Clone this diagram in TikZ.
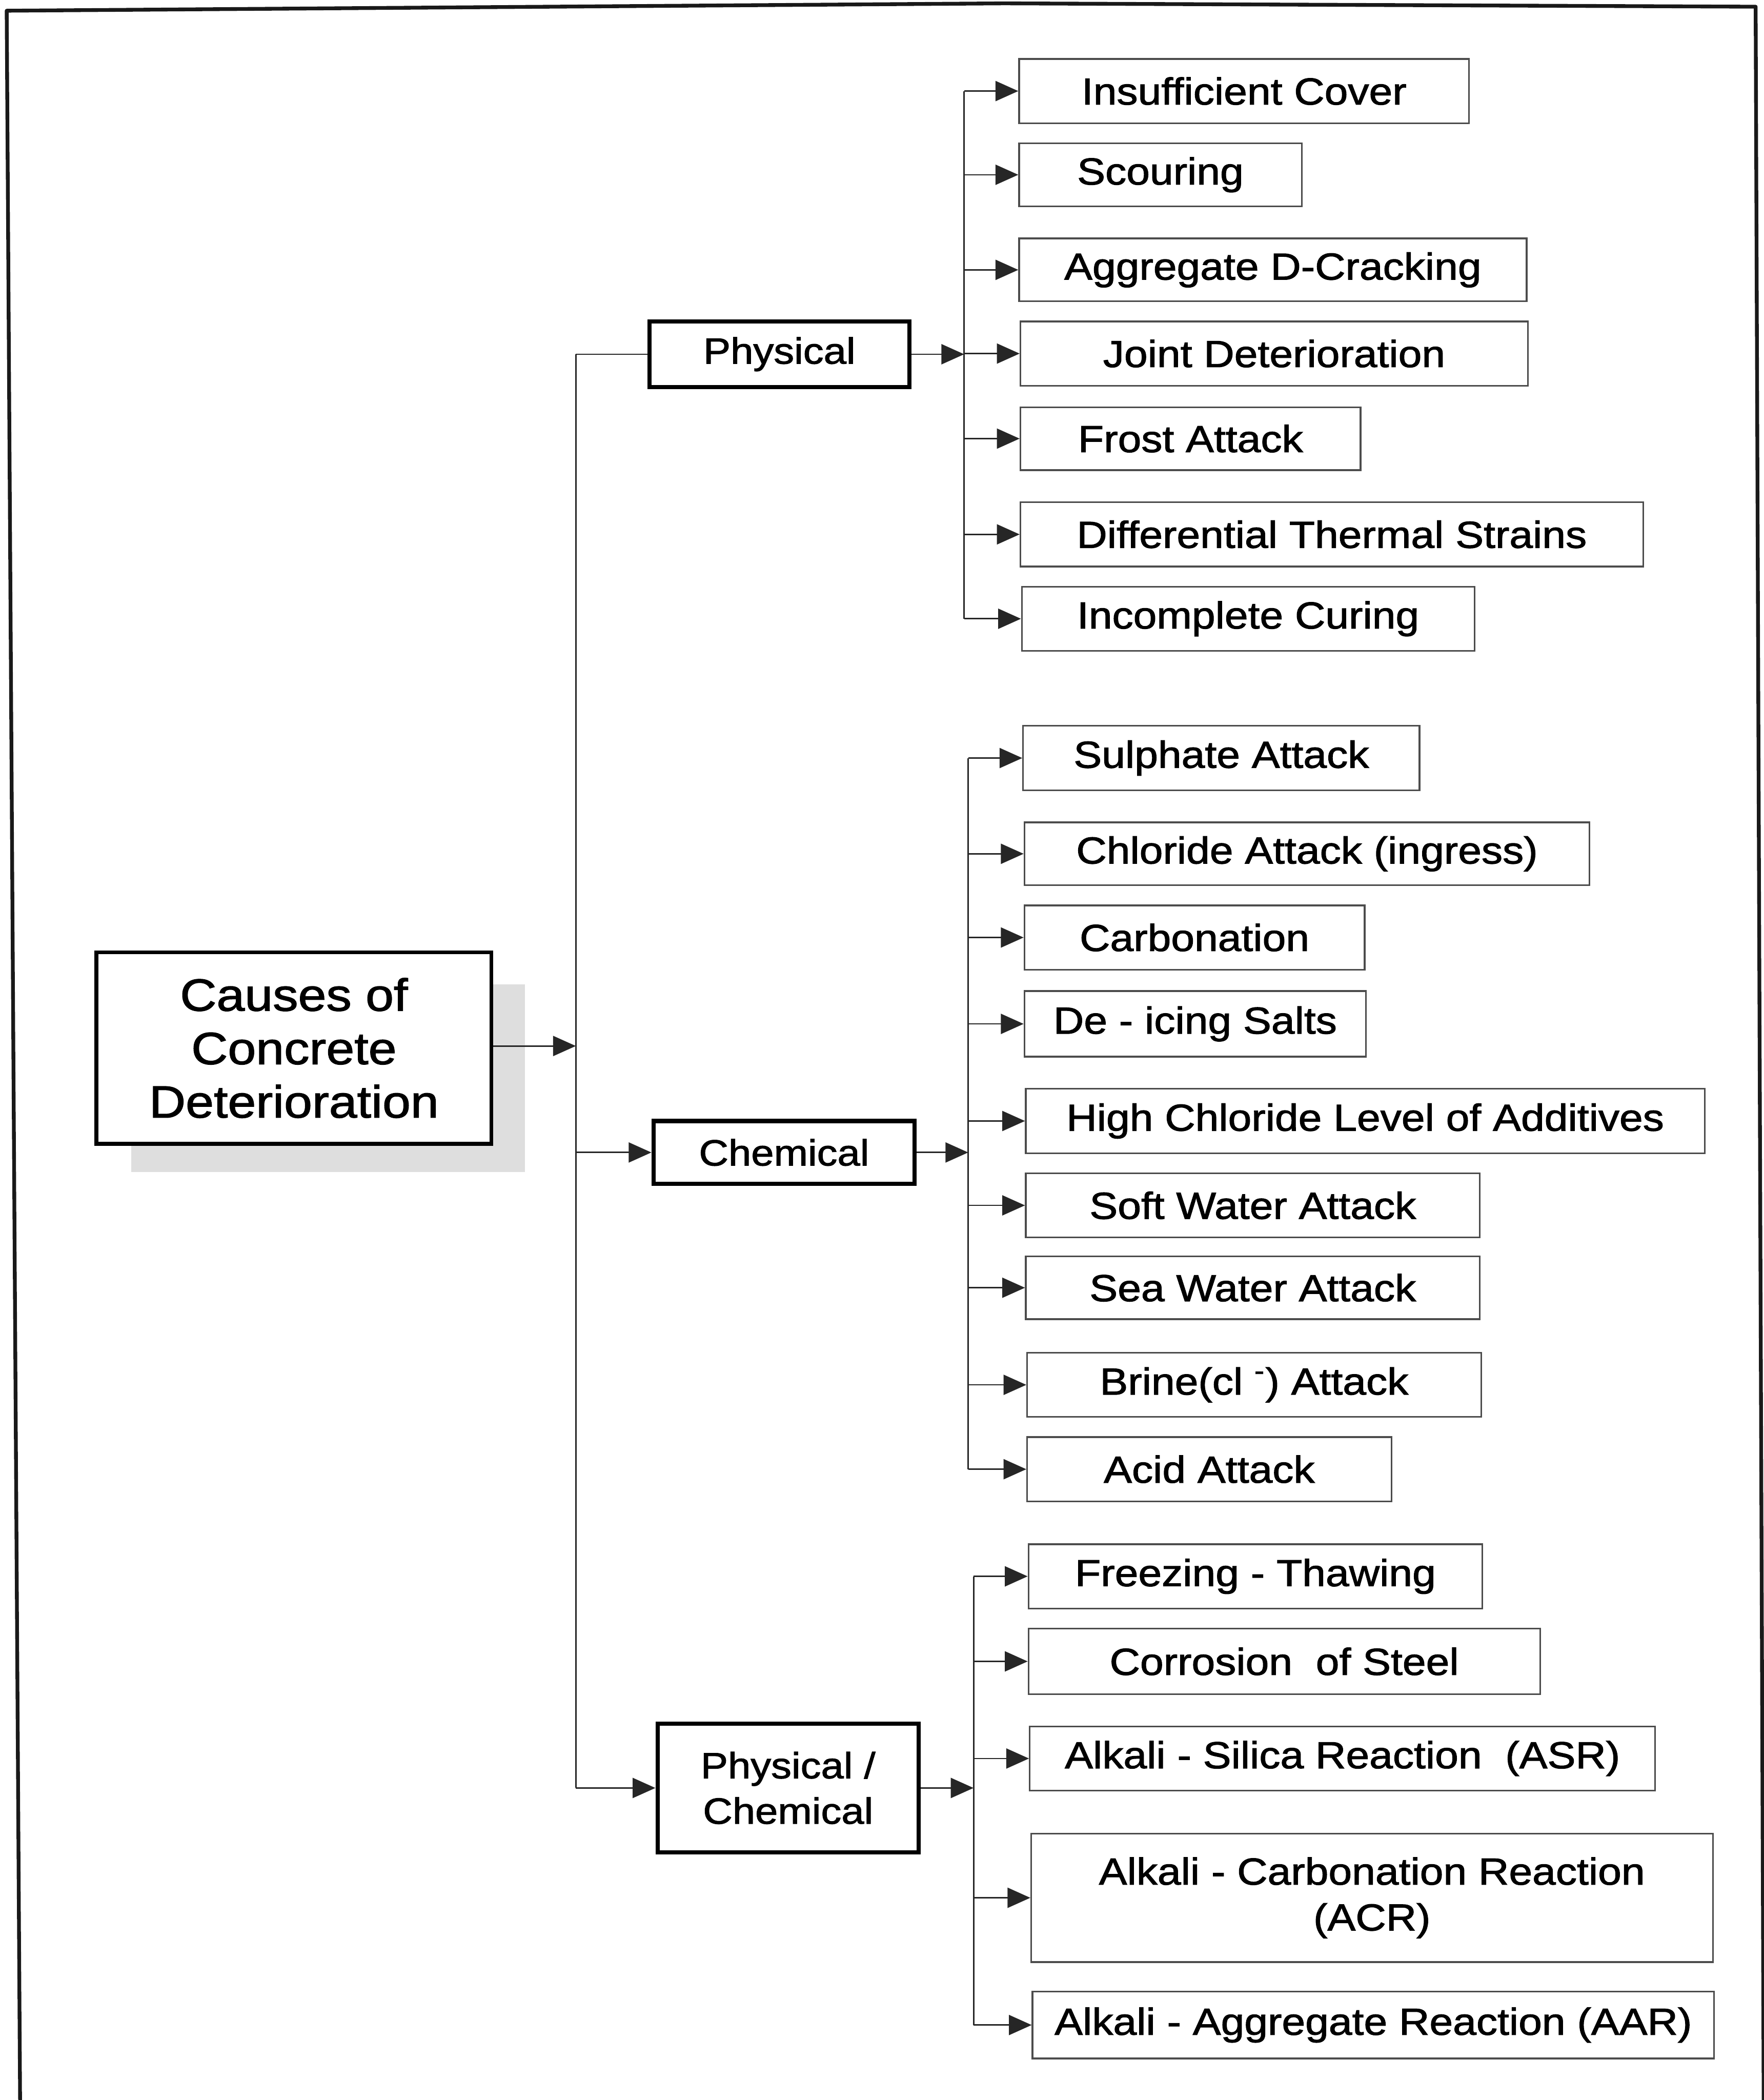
\documentclass[tikz,border=0pt]{standalone}
\usepackage{fontspec}
\setmainfont{Liberation Sans}[FakeStretch=1.12, FakeBold=1.6]
\usetikzlibrary{arrows.meta}

% box placed by its left, top, right and bottom edges (in drawing units)
\newcommand\placebox[7]{%
  \node[#1, minimum width={(#5-#3)*0.02cm}, minimum height={(#6-#4)*0.02cm}]
    (#2) at ({(#3+#5)/2},{(#4+#6)/2}) {#7};}

\begin{document}
\begin{tikzpicture}[x=0.02cm, y=-0.02cm,
  leaf/.style={draw=black!70, line width=0.7pt, fill=white, inner sep=0pt,
    align=center, font=\fontsize{16}{19.5}\selectfont},
  group/.style={draw=black, line width=1.8pt, fill=white, inner sep=0pt,
    align=center, font=\fontsize{15.5}{19.3}\selectfont},
  rootbox/.style={draw=black, line width=1.6pt, fill=white, inner sep=0pt,
    align=center, font=\fontsize{19.2}{22.7}\selectfont},
  link/.style={draw=black!85, line width=0.6pt},
  arr/.style={link, -{Triangle[length=0.34cm, width=0.3cm]}},
  frame/.style={draw=black!90, line width=1.6pt, line join=round}]

\useasboundingbox (0,0) rectangle (1317,1568);
\fill[white] (0,0) rectangle (1317,1568);

% page frame
\draw[frame] (15,1568) -- (5,8) -- (750,2.5) -- (1311,5) -- (1317,1568);

% root box with its shadow
\fill[black!13] (98,735) rectangle (392,875);
\placebox{rootbox}{root}{72}{711}{367}{854}{Causes of\\Concrete\\Deterioration}

% groups
\placebox{group}{phys}{485}{240}{679}{289}{Physical}
\placebox{group}{chem}{488}{837}{683}{884}{Chemical}
\placebox{group}{pc}{491}{1287}{686}{1383}{Physical /\\Chemical}

% physical causes
\placebox{leaf}{p1}{761}{44}{1097}{92}{Insufficient Cover}
\placebox{leaf}{p2}{761}{107}{972}{154}{Scouring}
\placebox{leaf}{p3}{761}{178}{1140}{225}{Aggregate D-Cracking}
\placebox{leaf}{p4}{762}{240}{1141}{288}{Joint Deterioration}
\placebox{leaf}{p5}{762}{304}{1016}{351}{Frost Attack}
\placebox{leaf}{p6}{762}{375}{1227}{423}{Differential Thermal Strains}
\placebox{leaf}{p7}{763}{438}{1101}{486}{Incomplete Curing}

% chemical causes
\placebox{leaf}{c1}{764}{542}{1060}{590}{Sulphate Attack}
\placebox{leaf}{c2}{765}{614}{1187}{661}{Chloride Attack (ingress)}
\placebox{leaf}{c3}{765}{676}{1019}{724}{Carbonation}
\placebox{leaf}{c4}{765}{740}{1020}{789}{De - icing Salts}
\placebox{leaf}{c5}{766}{813}{1273}{861}{High Chloride Level of Additives}
\placebox{leaf}{c6}{766}{876}{1105}{924}{Soft Water Attack}
\placebox{leaf}{c7}{766}{938}{1105}{985}{Sea Water Attack}
\placebox{leaf}{c8}{767}{1010}{1106}{1058}{Brine(cl \textsuperscript{-}) Attack}
\placebox{leaf}{c9}{767}{1073}{1039}{1121}{Acid Attack}

% physical / chemical causes
\placebox{leaf}{m1}{768}{1153}{1107}{1201}{Freezing - Thawing}
\placebox{leaf}{m2}{768}{1216}{1150}{1265}{Corrosion\ \ of Steel}
\placebox{leaf}{m3}{769}{1289}{1236}{1337}{Alkali - Silica Reaction\ \ (ASR)}
\placebox{leaf}{m4}{770}{1369}{1279}{1465}{Alkali - Carbonation Reaction\\(ACR)}
\placebox{leaf}{m5}{771}{1487}{1280}{1537}{Alkali - Aggregate Reaction (AAR)}

% main trunk
\coordinate (trunk) at (430,781);
\draw[arr] (root.east |- trunk) -- (trunk);
\draw[link] (trunk |- phys.west) -- (trunk |- pc.west);
\draw[link] (trunk |- phys.west) -- (phys.west);
\draw[arr] (trunk |- chem.west) -- (chem.west);
\draw[arr] (trunk |- pc.west) -- (pc.west);

% branch rails
\coordinate (pr) at (720,265);
\coordinate (cr) at (723,860);
\coordinate (mr) at (727,1335);

\draw[arr] (phys.east) -- (pr |- phys.east);
\draw[arr] (chem.east) -- (cr |- chem.east);
\draw[arr] (pc.east) -- (mr |- pc.east);

\draw[link] (pr |- p1.west) -- (pr |- p7.west);
\draw[link] (cr |- c1.west) -- (cr |- c9.west);
\draw[link] (mr |- m1.west) -- (mr |- m5.west);

\foreach \n in {p1,p2,p3,p4,p5,p6,p7}
  \draw[arr] (pr |- \n.west) -- (\n.west);
\foreach \n in {c1,c2,c3,c4,c5,c6,c7,c8,c9}
  \draw[arr] (cr |- \n.west) -- (\n.west);
\foreach \n in {m1,m2,m3,m4,m5}
  \draw[arr] (mr |- \n.west) -- (\n.west);

\end{tikzpicture}
\end{document}
